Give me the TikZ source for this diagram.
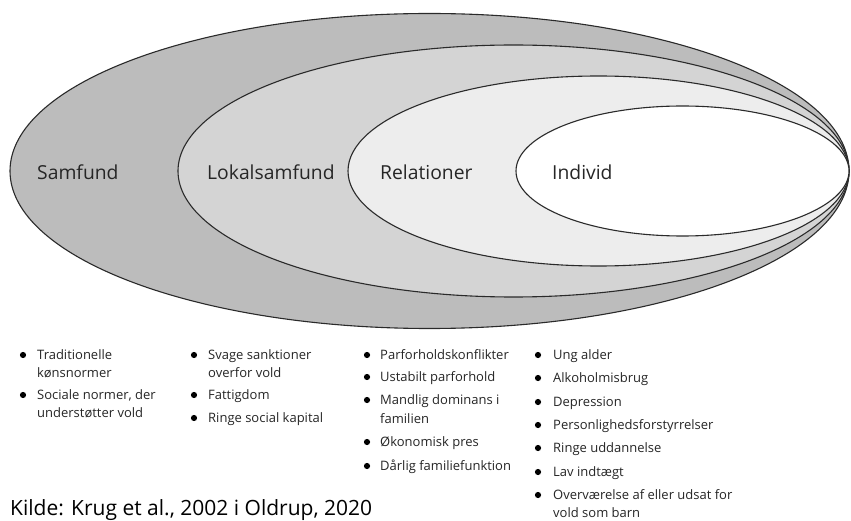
\documentclass[tikz,border=0pt]{standalone}
\usepackage{fontspec}
\setmainfont{Open Sans}
\definecolor{ringA}{HTML}{BCBCBC}
\definecolor{ringB}{HTML}{D4D4D4}
\definecolor{ringC}{HTML}{EDEDED}
\definecolor{edge}{HTML}{2A2A2A}
\definecolor{ink}{HTML}{262626}
\begin{document}
\begin{tikzpicture}[x=1pt,y=-1pt,
  ring/.style={draw=edge,line width=1.1pt},
  lvl/.style={anchor=west,inner sep=0pt,text=ink,font=\fontsize{19.3}{22}\selectfont},
  itemtext/.style={anchor=base west,inner sep=0pt,text=ink,font=\fontsize{13}{15}\selectfont},
  dot/.style={fill=black,draw=none}]
\useasboundingbox (0,0) rectangle (851,521);
\clip (0,0) rectangle (851,521);
\fill[white] (0,0) rectangle (851,521);
% nested ellipses
\draw[ring,fill=ringA] (429.5,171) ellipse [x radius=419.5pt, y radius=157.5pt];
\draw[ring,fill=ringB] (513.5,171) ellipse [x radius=335.5pt, y radius=126pt];
\draw[ring,fill=ringC] (598.5,171) ellipse [x radius=250.5pt, y radius=95pt];
\draw[ring,fill=white] (682.5,171) ellipse [x radius=166.5pt, y radius=65pt];
% level labels
\node[lvl] (samfund) at (37,172) {Samfund};
\node[lvl] (lokal) at (207,172) {Lokalsamfund};
\node[lvl] (rel) at (380,172) {Relationer};
\node[lvl] (ind) at (552,172) {Individ};
% column 1
\fill[dot] (23,355) circle (3.1pt);
\node[itemtext] (c1a) at (37,359.5) {Traditionelle};
\node[itemtext] (c1b) at (37,377.5) {kønsnormer};
\fill[dot] (23,395) circle (3.1pt);
\node[itemtext] (c1c) at (37,399.5) {Sociale normer, der};
\node[itemtext] (c1d) at (37,417.5) {understøtter vold};
% column 2
\fill[dot] (194,355) circle (3.1pt);
\node[itemtext] (c2a) at (208,359.5) {Svage sanktioner};
\node[itemtext] (c2b) at (208,377.5) {overfor vold};
\fill[dot] (194,395) circle (3.1pt);
\node[itemtext] (c2c) at (208,399.5) {Fattigdom};
\fill[dot] (194,418) circle (3.1pt);
\node[itemtext] (c2d) at (208,422.5) {Ringe social kapital};
% column 3
\fill[dot] (367,355) circle (3.1pt);
\node[itemtext] (c3a) at (380,359.5) {Parforholdskonflikter};
\fill[dot] (367,377) circle (3.1pt);
\node[itemtext] (c3b) at (380,381.5) {Ustabilt parforhold};
\fill[dot] (367,400) circle (3.1pt);
\node[itemtext] (c3c) at (380,404.5) {Mandlig dominans i};
\node[itemtext] (c3d) at (380,423.5) {familien};
\fill[dot] (367,442) circle (3.1pt);
\node[itemtext] (c3e) at (380,446.5) {Økonomisk pres};
\fill[dot] (367,466) circle (3.1pt);
\node[itemtext] (c3f) at (380,470.5) {Dårlig familiefunktion};
% column 4
\fill[dot] (538,355) circle (3.1pt);
\node[itemtext] (c4a) at (553,359.5) {Ung alder};
\fill[dot] (538,378) circle (3.1pt);
\node[itemtext] (c4b) at (553,382.5) {Alkoholmisbrug};
\fill[dot] (538,402) circle (3.1pt);
\node[itemtext] (c4c) at (553,406.5) {Depression};
\fill[dot] (538,425) circle (3.1pt);
\node[itemtext] (c4d) at (553,429.5) {Personlighedsforstyrrelser};
\fill[dot] (538,448) circle (3.1pt);
\node[itemtext] (c4e) at (553,452.5) {Ringe uddannelse};
\fill[dot] (538,472) circle (3.1pt);
\node[itemtext] (c4f) at (553,476.5) {Lav indtægt};
\fill[dot] (538,495) circle (3.1pt);
\node[itemtext] (c4g) at (553,499.5) {Overværelse af eller udsat for};
\node[itemtext] (c4h) at (553,517) {vold som barn};
% source
\node[anchor=base west,inner sep=0pt,text=black,font=\fontsize{21}{24}\selectfont] (kilde) at (10,515.5) {Kilde: Krug et al., 2002 i Oldrup, 2020};
\end{tikzpicture}
\end{document}
